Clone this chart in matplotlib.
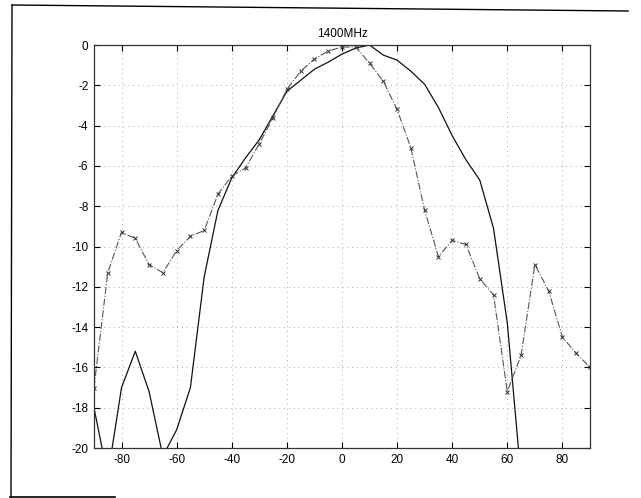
import numpy as np
import matplotlib
matplotlib.use('Agg')
import matplotlib.pyplot as plt
from matplotlib.lines import Line2D

plt.rcParams['font.family'] = ['Liberation Sans', 'DejaVu Sans']

# angle (deg) and normalised pattern (dB)
angle_a = [-90, -85, -80, -75, -70, -65, -60, -55, -50, -45, -40, -35, -30,
           -25, -20, -15, -10, -5, 0, 5, 10, 15, 20, 25, 30, 35, 40, 45, 50,
           55, 60, 65]
solid_db = [-18.0, -21.4, -17.0, -15.2, -17.2, -20.4, -19.1, -17.0, -11.5,
            -8.2, -6.6, -5.6, -4.7, -3.5, -2.3, -1.75, -1.2, -0.85, -0.45,
            -0.15, 0.0, -0.5, -0.75, -1.3, -1.95, -3.1, -4.5, -5.7, -6.7,
            -9.1, -13.8, -21.5]

angle_b = [-90, -85, -80, -75, -70, -65, -60, -55, -50, -45, -40, -35, -30,
           -25, -20, -15, -10, -5, 0, 5, 10, 15, 20, 25, 30, 35, 40, 45, 50,
           55, 60, 65, 70, 75, 80, 85, 90]
dashed_db = [-17.0, -11.3, -9.3, -9.6, -10.9, -11.3, -10.2, -9.5, -9.2,
             -7.4, -6.5, -6.1, -4.9, -3.6, -2.2, -1.3, -0.7, -0.3, -0.1,
             -0.1, -0.9, -1.8, -3.2, -5.1, -8.2, -10.5, -9.7, -9.9, -11.6,
             -12.4, -17.2, -15.4, -10.9, -12.2, -14.5, -15.3, -16.0]

x_ticks = [-80, -60, -40, -20, 0, 20, 40, 60, 80]
y_ticks = [0, -2, -4, -6, -8, -10, -12, -14, -16, -18, -20]

fig = plt.figure(figsize=(6.41, 4.98), dpi=100)
ax = fig.add_axes([0.1466, 0.1004, 0.7738, 0.8092])

ax.plot(angle_a, solid_db, color='#111111', linewidth=0.9, linestyle='-')
ax.plot(angle_b, dashed_db, color='#555555', linewidth=0.8, linestyle='-.',
        marker='x', markersize=3, markeredgewidth=0.7, markeredgecolor='#333333')

ax.set_xlim(-90, 90)
ax.set_ylim(-20, 0)
ax.set_xticks(x_ticks)
ax.set_yticks(y_ticks)
ax.set_xticklabels([str(t) for t in x_ticks])
ax.set_yticklabels([str(t) for t in y_ticks])
ax.tick_params(direction='in', top=True, right=True, length=4, width=0.8,
               labelsize=8.5, colors='black', pad=4)
ax.grid(True, linestyle=(0, (1, 4)), color='#aaaaaa', linewidth=0.7)
for s in ax.spines.values():
    s.set_linewidth(0.9)
    s.set_color('#333333')

ax.set_title('1400MHz', fontsize=8.5, pad=6)

# scanned page frame
W, H = 641.0, 498.0
fig.add_artist(Line2D([12 / W, 628 / W], [1 - 5 / H, 1 - 11 / H],
                      transform=fig.transFigure, color='black', linewidth=1.0))
fig.add_artist(Line2D([12 / W, 11 / W], [1 - 5 / H, 1 - 497 / H],
                      transform=fig.transFigure, color='black', linewidth=1.0))
fig.add_artist(Line2D([10 / W, 115 / W], [1 - 497 / H, 1 - 497 / H],
                      transform=fig.transFigure, color='black', linewidth=1.2))

fig.savefig('out.png', dpi=100)
